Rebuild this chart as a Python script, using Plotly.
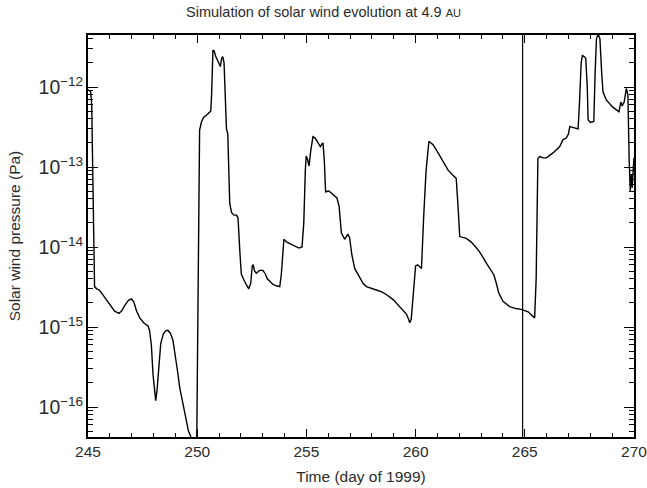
import plotly.graph_objects as go

# ---- data ----
days = [
    245.00, 245.12, 245.17, 245.21, 245.25, 245.30, 245.40, 245.52, 245.65, 245.77,
    245.92, 246.07, 246.22, 246.42, 246.55, 246.68, 246.85, 246.99, 247.10, 247.22,
    247.37, 247.56, 247.75, 247.82, 247.90, 247.98, 248.05, 248.10, 248.16, 248.24,
    248.33, 248.45, 248.57, 248.66, 248.78, 248.89, 249.00, 249.10, 249.20, 249.35,
    249.47, 249.60, 249.75, 249.90, 249.98, 250.02, 250.06, 250.11, 250.20, 250.30,
    250.45, 250.62, 250.66, 250.72, 250.78, 250.85, 250.95, 251.06, 251.12, 251.17,
    251.23, 251.30, 251.34, 251.40, 251.45, 251.49, 251.57, 251.68, 251.80, 251.87,
    251.95, 252.02, 252.17, 252.30, 252.36, 252.45, 252.52, 252.56, 252.63, 252.71,
    252.85, 253.01, 253.12, 253.21, 253.35, 253.47, 253.65, 253.78, 253.85, 253.92,
    253.97, 254.10, 254.24, 254.46, 254.66, 254.80, 254.88, 254.95, 254.99, 255.05,
    255.12, 255.20, 255.30, 255.40, 255.49, 255.64, 255.72, 255.76, 255.82, 255.88,
    256.03, 256.22, 256.40, 256.50, 256.60, 256.75, 256.90, 256.98, 257.08, 257.21,
    257.44, 257.60, 257.75, 258.00, 258.20, 258.45, 258.66, 258.97, 259.27, 259.58,
    259.68, 259.73, 259.80, 259.90, 260.00, 260.10, 260.20, 260.27, 260.37, 260.48,
    260.61, 260.80, 261.03, 261.25, 261.48, 261.71, 261.86, 261.95, 262.02, 262.32,
    262.55, 262.75, 262.93, 263.24, 263.58, 263.70, 263.80, 264.00, 264.31, 264.60,
    264.84, 265.15, 265.35, 265.45, 265.52, 265.57, 265.60, 265.68, 265.85, 265.99,
    266.29, 266.60, 266.75, 266.90, 267.00, 267.06, 267.20, 267.44, 267.50, 267.58,
    267.64, 267.79, 267.86, 267.90, 268.00, 268.16, 268.22, 268.28, 268.36, 268.44,
    268.52, 268.58, 268.73, 269.03, 269.31, 269.40, 269.46, 269.55, 269.65, 269.72,
    269.78, 269.83, 269.88, 269.92, 269.96, 270.00,
]
pressure = [
    9.2e-13, 8.8e-13, 6.0e-13, 1.0e-13, 1.0e-14, 3.2e-15, 3.0e-15, 2.9e-15, 2.6e-15, 2.35e-15,
    2.1e-15, 1.8e-15, 1.58e-15, 1.48e-15, 1.6e-15, 1.85e-15, 2.15e-15, 2.24e-15, 2.05e-15, 1.6e-15,
    1.3e-15, 1.12e-15, 1.03e-15, 9.0e-16, 6.0e-16, 2.5e-16, 1.4e-16, 1.2e-16, 1.6e-16, 3.5e-16,
    6.2e-16, 8.2e-16, 9.0e-16, 9.1e-16, 8.3e-16, 6.8e-16, 4.5e-16, 2.8e-16, 1.75e-16, 1.05e-16,
    7.0e-17, 5.0e-17, 4.0e-17, 3.5e-17, 4.0e-17, 1.0e-15, 5.0e-14, 2.9e-13, 3.7e-13, 4.2e-13,
    4.5e-13, 5.0e-13, 8.0e-13, 2.9e-12, 2.8e-12, 2.4e-12, 2.1e-12, 1.8e-12, 2.3e-12, 2.4e-12,
    2.0e-12, 6.0e-13, 3.0e-13, 2.6e-13, 1.0e-13, 3.5e-14, 2.7e-14, 2.5e-14, 2.5e-14, 2.3e-14,
    9.0e-15, 4.6e-15, 3.7e-15, 3.2e-15, 3.0e-15, 3.5e-15, 5.8e-15, 6.0e-15, 5.0e-15, 4.7e-15,
    5.1e-15, 5.1e-15, 4.6e-15, 4.0e-15, 3.6e-15, 3.4e-15, 3.25e-15, 3.2e-15, 4.5e-15, 1.0e-14,
    1.25e-14, 1.15e-14, 1.1e-14, 1.05e-14, 9.7e-15, 1.0e-14, 2.0e-14, 9.0e-14, 1.37e-13, 1.25e-13,
    1.03e-13, 1.6e-13, 2.4e-13, 2.3e-13, 2.1e-13, 1.8e-13, 1.95e-13, 2.0e-13, 1.2e-13, 4.9e-14,
    5.0e-14, 4.5e-14, 4.1e-14, 3.2e-14, 1.5e-14, 1.25e-14, 1.45e-14, 1.3e-14, 8.0e-15, 5.4e-15,
    4.1e-15, 3.5e-15, 3.2e-15, 3.0e-15, 2.9e-15, 2.75e-15, 2.55e-15, 2.2e-15, 1.8e-15, 1.45e-15,
    1.25e-15, 1.13e-15, 1.25e-15, 3.0e-15, 5.8e-15, 6.0e-15, 5.6e-15, 5.4e-15, 2.4e-14, 9.0e-14,
    2.1e-13, 1.9e-13, 1.5e-13, 1.17e-13, 9.2e-14, 7.9e-14, 7.2e-14, 3.0e-14, 1.35e-14, 1.28e-14,
    1.15e-14, 1.0e-14, 8.7e-15, 6.3e-15, 4.5e-15, 3.5e-15, 2.7e-15, 2.1e-15, 1.8e-15, 1.7e-15,
    1.66e-15, 1.55e-15, 1.38e-15, 1.30e-15, 4.0e-15, 5.0e-14, 1.28e-13, 1.35e-13, 1.3e-13, 1.30e-13,
    1.5e-13, 1.8e-13, 2.2e-13, 2.3e-13, 2.6e-13, 3.2e-13, 3.1e-13, 3.0e-13, 6.0e-13, 2.0e-12,
    2.5e-12, 2.3e-12, 1.0e-12, 3.9e-13, 3.6e-13, 3.7e-13, 1.5e-12, 4.0e-12, 4.6e-12, 4.0e-12,
    1.5e-12, 8.7e-13, 6.9e-13, 5.6e-13, 4.9e-13, 6.5e-13, 5.8e-13, 6.5e-13, 9.6e-13, 8.0e-13,
    1.2e-13, 5.0e-14, 8.0e-14, 5.5e-14, 9.0e-14, 1.3e-13,
]
marker_day = 264.9
x_range = [245, 270]
x_tickvals = [245, 250, 255, 260, 265, 270]
y_log_range = [-16.375, -11.35]

TEXT = "#2b2b2b"
FONT = "Liberation Sans, Arial, Helvetica, sans-serif"

fig = go.Figure()
fig.add_trace(go.Scatter(x=days, y=pressure, mode="lines",
                         line=dict(color="black", width=1.4), hoverinfo="skip",
                         showlegend=False))
fig.add_shape(type="line", xref="x", yref="paper", x0=marker_day, x1=marker_day,
              y0=0, y1=1, line=dict(color="black", width=1.2))

fig.update_layout(
    width=647, height=488,
    margin=dict(l=88, r=13, t=35, b=51),
    paper_bgcolor="white", plot_bgcolor="white",
    font=dict(family=FONT, size=15.5, color=TEXT),
    title=dict(text="Simulation of solar wind evolution at 4.9 <span style='font-size:11px'>AU</span>",
               x=0.5, xanchor="center", y=0.976, yanchor="middle",
               font=dict(size=14.5, color=TEXT)),
)
fig.update_xaxes(
    range=x_range, tickmode="array", tickvals=x_tickvals,
    ticktext=[str(v) for v in x_tickvals],
    automargin=False, ticklabeloverflow="allow",
    showgrid=False, zeroline=False,
    showline=True, linecolor="black", linewidth=1.5, mirror="ticks",
    ticks="inside", ticklen=8, tickwidth=1.2, tickcolor="black",
    minor=dict(ticks="inside", dtick=1, tick0=245, ticklen=4, tickwidth=1.2, tickcolor="black"),
    title=dict(text="Time (day of 1999)", standoff=12, font=dict(size=15.5, color=TEXT)),
    tickfont=dict(size=15.5, color=TEXT),
)
fig.update_yaxes(
    type="log", range=y_log_range, dtick=1, automargin=False,
    exponentformat="power", showexponent="all",
    showgrid=False, zeroline=False,
    showline=True, linecolor="black", linewidth=1.5, mirror="ticks",
    ticks="inside", ticklen=10, tickwidth=1.2, tickcolor="black",
    minor=dict(ticks="inside", dtick="D1", ticklen=5, tickwidth=1.2, tickcolor="black"),
    title=dict(text="Solar wind pressure (Pa)", standoff=14, font=dict(size=15.5, color=TEXT)),
    tickfont=dict(size=15.5, color=TEXT),
)

fig.write_html("out.html")
